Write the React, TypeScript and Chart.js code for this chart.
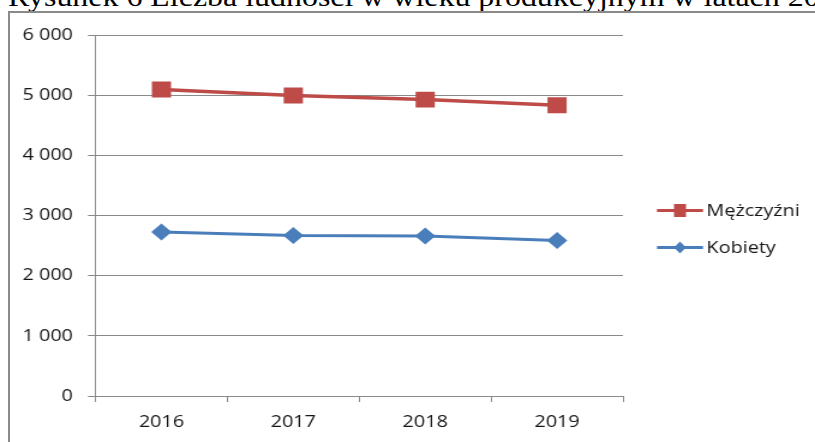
import React, { useEffect, useRef } from 'react';
import { Chart, registerables } from 'chart.js';

Chart.register(...registerables);

// ---- data ----
const years: string[] = ['2016', '2017', '2018', '2019'];
const menValues: number[] = [5095, 4993, 4926, 4831];
const womenValues: number[] = [2726, 2666, 2659, 2583];
const seriesNames: string[] = ['Mężczyźni', 'Kobiety'];
const yMin = 0;
const yMax = 6000;
const yStep = 1000;
const titleText = 'Rysunek 6 Liczba ludności w wieku produkcyjnym w latach 2016-2019';

// ---- layout (horizontal stretch like the reference) ----
const VIEW_W = 815;
const VIEW_H = 442;
const LOGICAL_W = 679;
const SX = VIEW_W / LOGICAL_W;

const RED = '#BE4B48';
const BLUE = '#4A7EBB';
const GRID = '#8a8a8a';
const TEXT = '#151515';
const FONT = '"Open Sans", "Liberation Sans", sans-serif';

function fmt(v: number): string {
  if (v === 0) return '0';
  const th = Math.floor(v / 1000);
  const rest = String(v % 1000).padStart(3, '0');
  return `${th} ${rest}`;
}

const legendPlugin = {
  id: 'sideLegend',
  afterDraw(chart: any) {
    const ctx = chart.ctx as CanvasRenderingContext2D;
    const x1 = 657 / SX;
    const x2 = 703 / SX;
    const xt = 706.5 / SX;
    const rows = [210.5, 247.5];
    chart.data.datasets.forEach((ds: any, i: number) => {
      const y = rows[i];
      ctx.save();
      ctx.strokeStyle = ds.borderColor;
      ctx.lineWidth = 3;
      ctx.beginPath();
      ctx.moveTo(x1, y);
      ctx.lineTo(x2, y);
      ctx.stroke();
      const cx = (x1 + x2) / 2;
      ctx.fillStyle = ds.backgroundColor;
      if (ds.pointStyle === 'rect') {
        ctx.fillRect(cx - 5, y - 6.5, 10, 13);
      } else {
        ctx.beginPath();
        ctx.moveTo(cx, y - 6);
        ctx.lineTo(cx + 5, y);
        ctx.lineTo(cx, y + 6);
        ctx.lineTo(cx - 5, y);
        ctx.closePath();
        ctx.fill();
      }
      ctx.fillStyle = TEXT;
      ctx.font = `16.5px ${FONT}`;
      ctx.textAlign = 'left';
      ctx.textBaseline = 'middle';
      ctx.fillText(ds.label, xt, y + 1);
      ctx.restore();
    });
  },
};

export default function App() {
  const canvasRef = useRef<HTMLCanvasElement | null>(null);

  useEffect(() => {
    const canvas = canvasRef.current;
    if (!canvas) return;
    const chart = new Chart(canvas, {
      type: 'line',
      data: {
        labels: years,
        datasets: [
          {
            label: seriesNames[0],
            data: menValues,
            borderColor: RED,
            backgroundColor: RED,
            borderWidth: 3.5,
            pointStyle: 'rect',
            pointRadius: 11.3,
            pointBorderWidth: 0,
            pointBackgroundColor: RED,
            tension: 0,
          },
          {
            label: seriesNames[1],
            data: womenValues,
            borderColor: BLUE,
            backgroundColor: BLUE,
            borderWidth: 3,
            pointStyle: 'rectRot',
            pointRadius: 8.5,
            pointBorderWidth: 0,
            pointBackgroundColor: BLUE,
            tension: 0,
          },
        ],
      },
      options: {
        responsive: false,
        animation: false,
        devicePixelRatio: 1,
        layout: { padding: { top: 35, right: LOGICAL_W - 623 / SX, bottom: 0, left: 0 } },
        plugins: {
          legend: { display: false },
          tooltip: { enabled: false },
          title: { display: false },
        },
        scales: {
          x: {
            type: 'category',
            offset: true,
            grid: {
              offset: true,
              drawOnChartArea: false,
              drawTicks: true,
              tickLength: 6,
              color: GRID,
              lineWidth: 1,
            },
            border: { display: true, color: GRID, width: 1 },
            ticks: {
              color: TEXT,
              font: { family: FONT, size: 16.5 },
              padding: 10.5,
              maxRotation: 0,
            },
            afterFit: (s: any) => {
              s.height = VIEW_H - 396;
            },
          },
          y: {
            min: yMin,
            max: yMax,
            grid: {
              color: GRID,
              lineWidth: 1,
              drawTicks: true,
              tickLength: 6.3,
            },
            border: { display: true, color: GRID, width: 1 },
            ticks: {
              stepSize: yStep,
              color: TEXT,
              font: { family: FONT, size: 16.5 },
              padding: 12.5,
              callback: (v: any) => fmt(Number(v)),
            },
            afterFit: (s: any) => {
              s.width = 95.5 / SX;
            },
          },
        },
      },
      plugins: [legendPlugin],
    });
    return () => chart.destroy();
  }, []);

  return (
    <div
      style={{
        position: 'fixed',
        left: 0,
        top: 0,
        width: VIEW_W,
        height: VIEW_H,
        overflow: 'hidden',
        background: '#fff',
      }}
    >
      <div
        style={{
          position: 'absolute',
          left: 8,
          top: -16.5,
          fontFamily: '"Liberation Serif", "Times New Roman", serif',
          fontSize: 26.6,
          lineHeight: '26.6px',
          whiteSpace: 'nowrap',
          color: '#000',
          transform: `scaleX(${SX})`,
          transformOrigin: 'left top',
        }}
      >
        {titleText}
      </div>
      <div
        style={{
          position: 'absolute',
          left: 8,
          top: 11,
          width: 1000,
          height: 600,
          border: `2px solid ${GRID}`,
          boxSizing: 'border-box',
        }}
      />
      <canvas
        ref={canvasRef}
        width={LOGICAL_W}
        height={VIEW_H}
        style={{
          position: 'absolute',
          left: 0,
          top: 0,
          width: VIEW_W,
          height: VIEW_H,
        }}
      />
    </div>
  );
}
